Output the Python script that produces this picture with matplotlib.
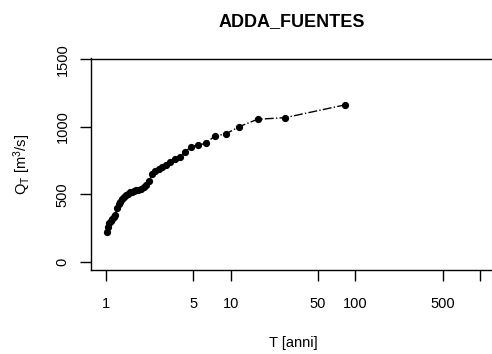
import matplotlib
matplotlib.use("Agg")
import matplotlib.pyplot as plt

# return period T [anni] and discharge Q_T [m3/s]
T_anni = [1.012, 1.038, 1.065, 1.093, 1.123, 1.155, 1.19, 1.22, 1.26, 1.30,
          1.34, 1.39, 1.44, 1.49, 1.55, 1.61, 1.67, 1.74, 1.82, 1.91,
          2.00, 2.10, 2.22, 2.34, 2.48, 2.65, 2.83, 3.04, 3.28, 3.57,
          3.90, 4.32, 4.82, 5.47, 6.3, 7.45, 9.1, 11.7, 16.4, 27.3, 82.0]
Q_T = [222, 258, 284, 305, 320, 334, 346, 400, 425, 445,
       463, 480, 494, 505, 514, 520, 524, 528, 532, 538,
       550, 570, 600, 648, 675, 690, 702, 720, 740, 760,
       778, 815, 852, 864, 877, 931, 946, 1000, 1055, 1067, 1161]

x_ticks = [1, 5, 10, 50, 100, 500, 1000]
x_labels = ['1', '5', '10', '50', '100', '500', '']  # 1000 label falls off the image
y_ticks = [0, 500, 1000, 1500]

plt.rcParams['font.family'] = ['Liberation Sans', 'DejaVu Sans']
plt.rcParams['mathtext.default'] = 'regular'

W, H = 492, 354
fig = plt.figure(figsize=(W / 100, H / 100), dpi=100)
# box: left 91px, right off the image, top 58.5px, bottom 270px
ax = fig.add_axes([91 / W, (H - 270) / H, (495 - 91) / W, (270 - 58.5) / H])

ax.plot(T_anni, Q_T, color='black', linestyle='-.', linewidth=1,
        marker='o', markersize=4.2)

ax.set_xscale('log')
ax.set_xlim(0.758, 1316)
ax.set_ylim(-61, 1505)

ax.set_xticks(x_ticks)
ax.set_xticklabels(x_labels)
ax.minorticks_off()
ax.set_yticks(y_ticks)
ax.set_yticklabels([str(v) for v in y_ticks], rotation=90, va='center')

ax.tick_params(axis='both', direction='out', length=8, width=1, labelsize=10.5)
ax.tick_params(axis='x', pad=11.5)
ax.tick_params(axis='y', pad=7.5)
for s in ax.spines.values():
    s.set_linewidth(1)

ax.set_xlabel('T [anni]', fontsize=10.5, labelpad=18)
ax.set_ylabel(r'Q$_T$ [m$^3$/s]', fontsize=10.5, labelpad=16)
fig.text(291.7 / W, 1 - 21.7 / H, 'ADDA_FUENTES', ha='center', va='center',
         fontsize=13, fontweight='bold')

fig.savefig('out.png', dpi=100)
